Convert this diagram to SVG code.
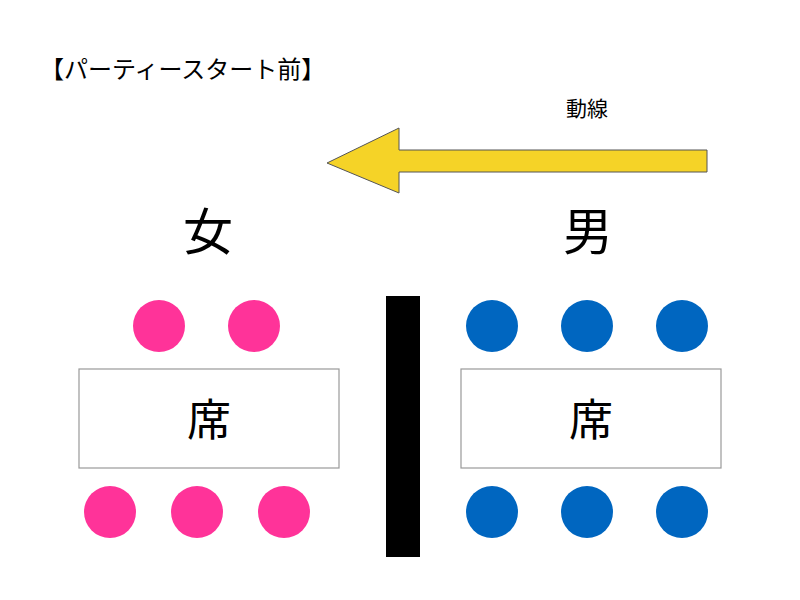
<svg xmlns="http://www.w3.org/2000/svg" width="800" height="600" viewBox="0 0 800 600">
<style>
text{font-family:"Noto Sans CJK JP","Noto Sans",sans-serif;fill:#000}
.f{fill:#FF3399}.m{fill:#0066C0}
.t{fill:#fff;stroke:#999;stroke-width:1.2}
</style>
<rect width="800" height="600" fill="#fff"/>
<text x="40" y="78" font-size="24">【パーティースタート前】</text>
<text x="587" y="116" font-size="21" text-anchor="middle">動線</text>
<g id="connectors">
<polygon points="327,163 399,128 399,150 707,150 707,172 399,172 399,193" fill="#F5D327" stroke="#555" stroke-width="1"/>
</g>
<text x="208" y="250" font-size="50" text-anchor="middle">女</text>
<text x="588" y="250" font-size="50" text-anchor="middle">男</text>
<rect id="divider" x="386" y="296" width="34" height="261" fill="#000"/>
<g id="women">
<circle class="f" cx="159" cy="326" r="26"/><circle class="f" cx="254" cy="326" r="26"/>
<circle class="f" cx="110" cy="512" r="26"/><circle class="f" cx="197" cy="512" r="26"/><circle class="f" cx="284" cy="512" r="26"/>
</g>
<g id="table-left"><rect class="t" x="79" y="369" width="260" height="99"/><text x="209" y="436" font-size="44" text-anchor="middle">席</text></g>
<g id="men">
<circle class="m" cx="492" cy="326" r="26"/><circle class="m" cx="587" cy="326" r="26"/><circle class="m" cx="682" cy="326" r="26"/>
<circle class="m" cx="492" cy="512" r="26"/><circle class="m" cx="587" cy="512" r="26"/><circle class="m" cx="682" cy="512" r="26"/>
</g>
<g id="table-right"><rect class="t" x="461" y="369" width="260" height="99"/><text x="591" y="436" font-size="44" text-anchor="middle">席</text></g>
</svg>
